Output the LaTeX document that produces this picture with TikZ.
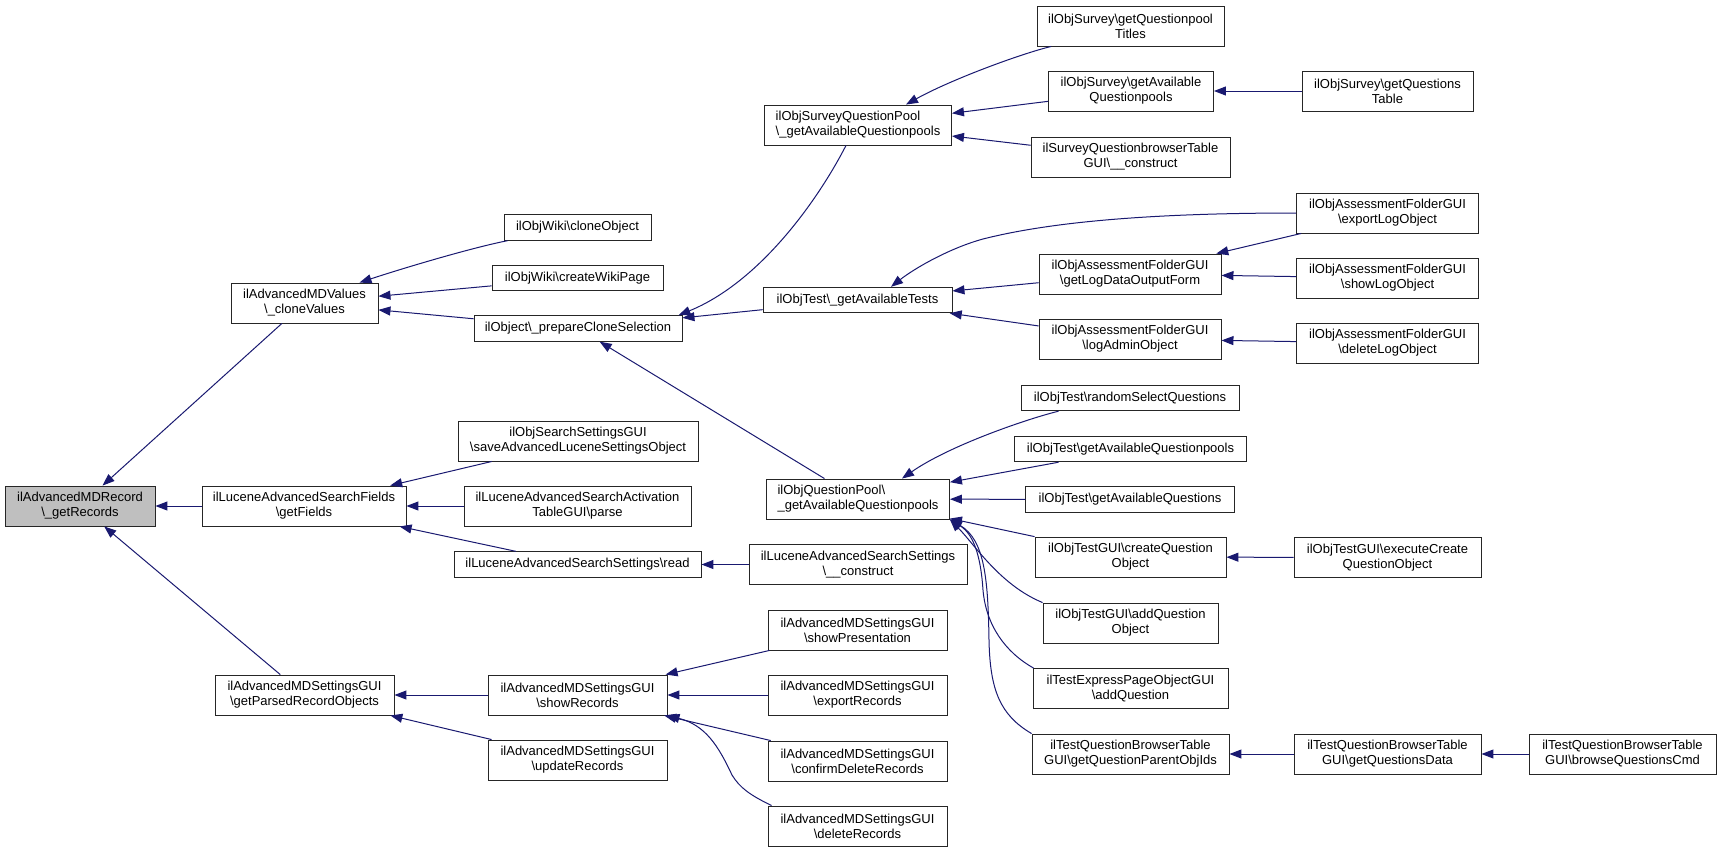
\documentclass[tikz,border=0pt]{standalone}
\usepackage{fontspec}
\setmainfont{Liberation Sans}
\usetikzlibrary{arrows.meta}
\definecolor{edgeblue}{HTML}{191970}
\definecolor{recgray}{HTML}{BFBFBF}
\tikzset{
  box/.style={draw=black!85, line width=0.9pt, fill=white, inner sep=1pt, align=center,
    font=\fontsize{13}{15}\selectfont},
  two/.style={minimum height=40pt},
  one/.style={minimum height=25.5pt},
  edge/.style={draw=edgeblue, line width=1pt, -{Triangle[length=12pt,width=9pt]}}
}
\begin{document}
\begin{tikzpicture}[x=1pt,y=-1pt]
\path[use as bounding box] (0,0) rectangle (1721,852);
% column 0
\node[box,two,minimum width=150pt,fill=recgray] (rec) at (80,506) {ilAdvancedMDRecord\\\textbackslash\_getRecords};
% column 1
\node[box,two,minimum width=147pt] (vals) at (304.5,303) {ilAdvancedMDValues\\\textbackslash\_cloneValues};
\node[box,two,minimum width=204pt] (fields) at (304,506) {ilLuceneAdvancedSearchFields\\\textbackslash getFields};
\node[box,two,minimum width=179pt] (parsed) at (304.5,695) {ilAdvancedMDSettingsGUI\\\textbackslash getParsedRecordObjects};
% column 2
\node[box,one,minimum width=147pt] (wikiclone) at (577.5,227.5) {ilObjWiki\textbackslash cloneObject};
\node[box,one,minimum width=171pt] (wikipage) at (577.5,278) {ilObjWiki\textbackslash createWikiPage};
\node[box,one,minimum width=208pt] (prep) at (578,328.5) {ilObject\textbackslash\_prepareCloneSelection};
\node[box,two,minimum width=240pt] (saveadv) at (578,441) {ilObjSearchSettingsGUI\\\textbackslash saveAdvancedLuceneSettingsObject};
\node[box,two,minimum width=227pt] (activ) at (577.5,506) {ilLuceneAdvancedSearchActivation\\TableGUI\textbackslash parse};
\node[box,one,minimum width=247pt] (read) at (577.5,564.5) {ilLuceneAdvancedSearchSettings\textbackslash read};
\node[box,two,minimum width=179pt] (showrec) at (577.5,695) {ilAdvancedMDSettingsGUI\\\textbackslash showRecords};
\node[box,two,minimum width=179pt] (updrec) at (577.5,760) {ilAdvancedMDSettingsGUI\\\textbackslash updateRecords};
% column 3
\node[box,two,minimum width=187pt,align=left] (svqp) at (858,125) {ilObjSurveyQuestionPool\\\textbackslash\_getAvailableQuestionpools};
\node[box,one,minimum width=189pt] (gettests) at (857.5,300) {ilObjTest\textbackslash\_getAvailableTests};
\node[box,two,minimum width=183pt,align=left] (qp) at (858,499) {ilObjQuestionPool\textbackslash\\\_getAvailableQuestionpools};
\node[box,two,minimum width=218pt] (luccons) at (858,564.5) {ilLuceneAdvancedSearchSettings\\\textbackslash\_\_construct};
\node[box,two,minimum width=179pt] (showpres) at (857.5,630) {ilAdvancedMDSettingsGUI\\\textbackslash showPresentation};
\node[box,two,minimum width=179pt] (exprec) at (857.5,695) {ilAdvancedMDSettingsGUI\\\textbackslash exportRecords};
\node[box,two,minimum width=179pt] (confdel) at (857.5,761) {ilAdvancedMDSettingsGUI\\\textbackslash confirmDeleteRecords};
\node[box,two,minimum width=179pt] (delrec) at (857.5,826) {ilAdvancedMDSettingsGUI\\\textbackslash deleteRecords};
% column 4
\node[box,two,minimum width=187pt] (qptitles) at (1130.5,26) {ilObjSurvey\textbackslash getQuestionpool\\Titles};
\node[box,two,minimum width=165pt] (availqp) at (1131,91) {ilObjSurvey\textbackslash getAvailable\\Questionpools};
\node[box,two,minimum width=199pt] (sqbrowser) at (1130.5,157) {ilSurveyQuestionbrowserTable\\GUI\textbackslash\_\_construct};
\node[box,two,minimum width=182pt] (getlog) at (1130,274) {ilObjAssessmentFolderGUI\\\textbackslash getLogDataOutputForm};
\node[box,two,minimum width=182pt] (logadmin) at (1130,339) {ilObjAssessmentFolderGUI\\\textbackslash logAdminObject};
\node[box,one,minimum width=218pt] (randsel) at (1130,398) {ilObjTest\textbackslash randomSelectQuestions};
\node[box,one,minimum width=232pt] (tavailqp) at (1130.5,449) {ilObjTest\textbackslash getAvailableQuestionpools};
\node[box,one,minimum width=208.5pt] (tavailq) at (1130,499.5) {ilObjTest\textbackslash getAvailableQuestions};
\node[box,two,minimum width=191pt] (createq) at (1130.5,557) {ilObjTestGUI\textbackslash createQuestion\\Object};
\node[box,two,minimum width=175pt] (addq) at (1130.5,623) {ilObjTestGUI\textbackslash addQuestion\\Object};
\node[box,two,minimum width=195pt] (express) at (1130.5,688.5) {ilTestExpressPageObjectGUI\\\textbackslash addQuestion};
\node[box,two,minimum width=197pt] (bparent) at (1130.5,754) {ilTestQuestionBrowserTable\\GUI\textbackslash getQuestionParentObjIds};
% column 5
\node[box,two,minimum width=171pt] (qtable) at (1387.5,91) {ilObjSurvey\textbackslash getQuestions\\Table};
\node[box,two,minimum width=182pt] (exportlog) at (1387.5,213) {ilObjAssessmentFolderGUI\\\textbackslash exportLogObject};
\node[box,two,minimum width=182pt] (showlog) at (1387.5,278) {ilObjAssessmentFolderGUI\\\textbackslash showLogObject};
\node[box,two,minimum width=182pt] (deletelog) at (1387.5,343) {ilObjAssessmentFolderGUI\\\textbackslash deleteLogObject};
\node[box,two,minimum width=187pt] (execq) at (1387.5,557.5) {ilObjTestGUI\textbackslash executeCreate\\QuestionObject};
\node[box,two,minimum width=187pt] (qdata) at (1387.5,754) {ilTestQuestionBrowserTable\\GUI\textbackslash getQuestionsData};
% column 6
\node[box,two,minimum width=187pt] (browsecmd) at (1622.5,754) {ilTestQuestionBrowserTable\\GUI\textbackslash browseQuestionsCmd};
% edges
\draw[edge] (vals) -- (rec);
\draw[edge] (fields) -- (rec);
\draw[edge] (parsed) -- (rec);
\draw[edge] ([xshift=-70pt]wikiclone.south) .. controls (475,247) and (410,266) .. ([xshift=55pt]vals.north);
\draw[edge] (wikipage) -- (vals);
\draw[edge] (prep) -- (vals);
\draw[edge] ([xshift=-12pt]svqp.south) .. controls (818,200) and (760,282) .. ([xshift=-4pt]prep.north east);
\draw[edge] (gettests) -- (prep);
\draw[edge] (qp) -- (prep);
\draw[edge] ([xshift=14.6pt]qptitles.south west) .. controls (1020,54) and (950,80) .. ([xshift=48pt]svqp.north);
\draw[edge] (availqp) -- (svqp);
\draw[edge] (sqbrowser) -- (svqp);
\draw[edge] (qtable) -- (availqp);
\draw[edge] (exportlog.west) .. controls (1150,213) and (1050,222) .. (983,239) .. controls (950,248) and (915,268) .. ([xshift=33.5pt]gettests.north);
\draw[edge] (getlog) -- (gettests);
\draw[edge] (logadmin) -- (gettests);
\draw[edge] (exportlog) -- (getlog);
\draw[edge] (showlog) -- (getlog);
\draw[edge] (deletelog) -- (logadmin);
\draw[edge] (saveadv) -- (fields);
\draw[edge] (activ) -- (fields);
\draw[edge] (read) -- (fields);
\draw[edge] (luccons) -- (read);
\draw[edge] (showrec) -- (parsed);
\draw[edge] (updrec) -- (parsed);
\draw[edge] (showpres) -- (showrec);
\draw[edge] (exprec) -- (showrec);
\draw[edge] (confdel) -- (showrec);
\draw[edge] ([xshift=4pt]delrec.north west) .. controls (750,795) and (740,788) .. (732,775) .. controls (718,745) and (705,725) .. (showrec.south east);
\draw[edge] ([xshift=38pt]randsel.south west) .. controls (1030,418) and (950,445) .. ([xshift=44pt]qp.north);
\draw[edge] (tavailqp) -- (qp);
\draw[edge] (tavailq) -- (qp);
\draw[edge] (createq) -- (qp);
\draw[edge] (addq.north west) .. controls (1000,585) and (975,545) .. (qp.south east);
\draw[edge] ([xshift=1pt]express.north west) .. controls (1005,652) and (986,625) .. (983,590) .. controls (981,560) and (975,535) .. (qp.south east);
\draw[edge] (bparent.north west) .. controls (1000,715) and (990,690) .. (989,640) .. controls (988,580) and (985,540) .. (qp.south east);
\draw[edge] (execq) -- (createq);
\draw[edge] (qdata) -- (bparent);
\draw[edge] (browsecmd) -- (qdata);
\end{tikzpicture}
\end{document}
